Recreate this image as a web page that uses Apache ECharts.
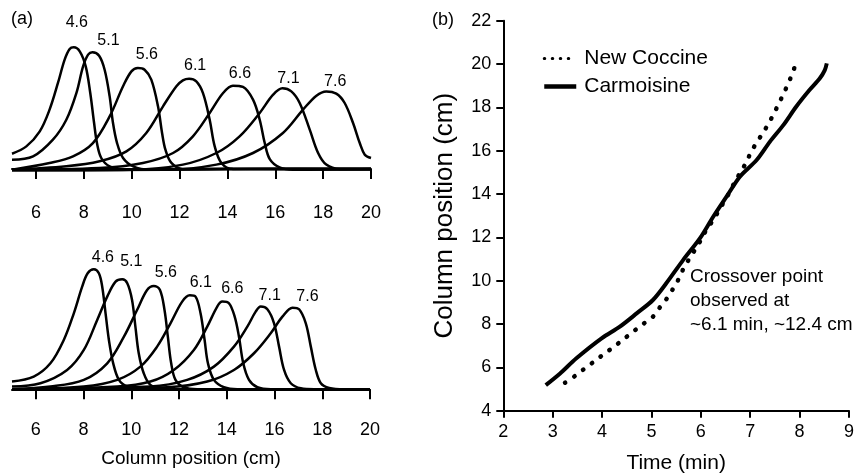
<!DOCTYPE html>
<html>
<head>
<meta charset="utf-8">
<script src="https://cdn.jsdelivr.net/npm/echarts@6/dist/echarts.min.js"></script>
<style>
  html, body { margin: 0; padding: 0; background: #fff; }
  #main { width: 856px; height: 475px; }
</style>
</head>
<body>
<div id="main"></div>
<script>
// elution times (min) of each profile
const runTimes = ['4.6', '5.1', '5.6', '6.1', '6.6', '7.1', '7.6'];
const tickValues = [6, 8, 10, 12, 14, 16, 18, 20];

// (a) top: [column position (cm), signal]
const top46 = [[5.00, 12.9], [5.60, 19.1], [6.16, 31.8], [6.57, 50.1], [6.92, 72.6], [7.20, 92.3], [7.41, 101.3], [7.58, 102.7], [7.83, 99.3], [8.08, 86.6], [8.27, 64.1], [8.43, 38.8], [8.55, 21.9], [8.73, 9.3], [9.08, 2.3], [9.78, -0.6], [14, 0.3], [20, 0]];
const top51 = [[5.00, 7.9], [5.88, 10.7], [6.71, 24.8], [7.27, 41.6], [7.69, 64.1], [7.97, 86.6], [8.18, 96.5], [8.36, 98.5], [8.64, 95.6], [8.87, 83.8], [9.08, 61.3], [9.22, 38.8], [9.39, 21.9], [9.64, 9.3], [10.06, 2.3], [10.75, -0.6], [15, 0], [20, 0.3]];
const top56 = [[5.00, -0.6], [6.57, 5.1], [7.55, 10.7], [8.38, 21.9], [9.08, 44.4], [9.64, 69.8], [9.99, 82.4], [10.26, 85.2], [10.54, 83.8], [10.82, 75.4], [11.10, 52.9], [11.27, 30.4], [11.41, 16.3], [11.66, 5.1], [12.14, 0], [20, 0]];
const top61 = [[5.00, -0.6], [7.27, 2.3], [8.66, 6.5], [9.78, 14.9], [10.61, 30.4], [11.31, 52.9], [11.87, 69.8], [12.14, 74.8], [12.40, 76.2], [12.70, 74.0], [12.98, 64.1], [13.26, 41.6], [13.47, 19.1], [13.75, 5.1], [14.23, 0], [20, -0.4]];
const top66 = [[5.00, -0.6], [8.66, 0.8], [10.47, 5.1], [11.73, 13.5], [12.56, 27.6], [13.26, 47.3], [13.82, 64.1], [14.23, 70.3], [14.65, 69.2], [15.07, 58.5], [15.35, 41.6], [15.56, 21.9], [15.77, 8.4], [16.18, 1.4], [16.74, -0.6], [20, 0]];
const top71 = [[5.00, -1.1], [10.06, -0.6], [12.14, 3.7], [13.54, 13.5], [14.51, 27.6], [15.35, 47.3], [15.91, 62.7], [16.30, 68.1], [16.67, 65.5], [17.02, 55.7], [17.44, 33.2], [17.79, 13.5], [18.13, 3.7], [18.69, 0], [20, 0]];
const top76 = [[5.00, -1.1], [11.45, -0.6], [13.54, 3.7], [15.07, 13.5], [16.32, 30.4], [17.16, 50.1], [17.72, 61.9], [18.13, 65.5], [18.55, 63.6], [18.90, 55.7], [19.25, 38.8], [19.53, 21.9], [19.74, 12.1], [20.00, 9.3]];

// (a) bottom
const bot46 = [[5.00, 6.5], [5.91, 10.7], [6.61, 21.9], [7.17, 41.6], [7.59, 64.1], [7.94, 86.6], [8.17, 97.9], [8.43, 101.3], [8.64, 97.9], [8.78, 86.6], [8.92, 64.1], [9.06, 41.6], [9.24, 21.9], [9.48, 7.9], [9.83, 2.3], [10.52, 0], [20, 0]];
const bot51 = [[5.00, 2.3], [6.19, 5.1], [7.31, 16.3], [8.01, 33.2], [8.57, 58.5], [8.99, 78.2], [9.34, 90.9], [9.62, 92.8], [9.83, 89.5], [10.03, 75.4], [10.17, 52.9], [10.31, 30.4], [10.52, 13.5], [10.80, 3.7], [11.36, 0], [20, 0]];
const bot56 = [[5.00, 0], [6.61, 2.3], [8.01, 7.9], [8.99, 21.9], [9.69, 44.4], [10.24, 66.9], [10.66, 83.8], [10.94, 87.2], [11.20, 83.8], [11.39, 66.9], [11.53, 44.4], [11.67, 21.9], [11.85, 7.9], [12.20, 1.7], [12.76, 0], [20, 0]];
const bot61 = [[5.00, 0], [8.01, 2.3], [9.41, 7.9], [10.38, 19.1], [11.08, 36.0], [11.64, 55.7], [12.13, 74.0], [12.45, 79.3], [12.69, 78.2], [12.90, 64.1], [13.07, 41.6], [13.21, 21.9], [13.46, 7.9], [13.88, 1.7], [14.44, 0], [20, 0]];
const bot66 = [[5.00, 0], [9.41, 2.3], [10.80, 6.5], [11.78, 16.3], [12.62, 33.2], [13.18, 52.9], [13.60, 69.8], [13.81, 74.0], [14.09, 72.6], [14.33, 61.3], [14.51, 44.4], [14.69, 21.9], [14.93, 7.9], [15.28, 1.7], [15.84, 0], [20, 0]];
const bot71 = [[5.00, 0], [10.80, 2.3], [12.34, 7.9], [13.46, 19.1], [14.30, 36.0], [14.86, 52.9], [15.21, 65.5], [15.42, 69.8], [15.70, 67.5], [15.98, 55.7], [16.19, 36.0], [16.40, 16.3], [16.68, 5.1], [17.10, 0.8], [17.66, 0], [20, 0]];
const bot76 = [[5.00, 0], [11.50, 1.7], [13.18, 6.5], [14.30, 16.3], [15.14, 30.4], [15.84, 47.3], [16.33, 61.3], [16.75, 68.9], [17.03, 67.5], [17.31, 55.7], [17.52, 36.0], [17.73, 16.3], [17.94, 5.1], [18.29, 1.1], [18.92, 0], [20, 0]];

// (b) front position: [time (min), column position (cm)]
const newCoccine = [[3.25, 5.29], [3.45, 5.60], [3.65, 5.95], [3.85, 6.29], [4.04, 6.62], [4.24, 6.95], [4.43, 7.29], [4.63, 7.65], [4.83, 8.00], [5.03, 8.34], [5.17, 8.77], [5.30, 9.14], [5.43, 9.60], [5.54, 10.03], [5.64, 10.52], [5.75, 10.95], [5.88, 11.42], [6.01, 11.91], [6.11, 12.34], [6.25, 12.80], [6.36, 13.22], [6.47, 13.65], [6.59, 14.11], [6.69, 14.57], [6.81, 15.03], [6.92, 15.46], [7.01, 15.91], [7.12, 16.34], [7.26, 16.83], [7.38, 17.29], [7.48, 17.72], [7.58, 18.18], [7.68, 18.65], [7.77, 19.11], [7.85, 19.54], [7.92, 20.00]];
const carmoisine = [[2.86, 5.18], [3.15, 5.72], [3.48, 6.42], [3.99, 7.34], [4.36, 7.88], [4.70, 8.49], [5.03, 9.11], [5.30, 9.88], [5.64, 10.95], [5.98, 11.95], [6.25, 12.95], [6.52, 13.88], [6.79, 14.80], [7.13, 15.57], [7.40, 16.42], [7.67, 17.18], [7.93, 18.03], [8.20, 18.80], [8.41, 19.34], [8.51, 19.72], [8.55, 20.03]];

const topCurves = [top46, top51, top56, top61, top66, top71, top76];
const botCurves = [bot46, bot51, bot56, bot61, bot66, bot71, bot76];

// label nudges (px) relative to each peak
const topLabelOffsets = [[3, -17], [16, -4], [9, -5], [6, -5], [7, -4], [6, -2], [9, -2]];
const botLabelOffsets = [[9, -4], [9, -10], [12, -5], [11, -5], [10, -5], [9, -3], [15, -3]];

const FONT = 'Liberation Sans, Arial, Helvetica, sans-serif';
const black = '#000';

function peakSeries(name, data, idx, offset) {
  return {
    name: name,
    type: 'line',
    xAxisIndex: idx,
    yAxisIndex: idx,
    data: data,
    smooth: 0.35,
    symbol: 'none',
    silent: true,
    lineStyle: { color: black, width: 2.5 },
    markPoint: {
      symbol: 'circle',
      symbolSize: 0,
      data: [{ type: 'max' }],
      label: {
        show: true,
        position: 'top',
        distance: 0,
        offset: offset,
        formatter: name,
        color: black,
        fontSize: 16,
        fontFamily: FONT
      }
    }
  };
}

function peakXAxis(idx) {
  return {
    type: 'value',
    gridIndex: idx,
    min: 5,
    max: 20,
    axisLine: { show: true, lineStyle: { color: black, width: 2 } },
    axisTick: { show: true, length: 10, customValues: tickValues, lineStyle: { color: black, width: 2 } },
    axisLabel: { customValues: tickValues, color: black, fontSize: 18, fontFamily: FONT, margin: 11 },
    splitLine: { show: false }
  };
}

let myChart = echarts.init(document.getElementById('main'));

let series = [];
runTimes.forEach((t, i) => series.push(peakSeries(t, topCurves[i], 0, topLabelOffsets[i])));
runTimes.forEach((t, i) => series.push(peakSeries(t, botCurves[i], 1, botLabelOffsets[i])));
series.push({
  name: 'New Coccine',
  type: 'line',
  xAxisIndex: 2,
  yAxisIndex: 2,
  data: newCoccine,
  symbol: 'none',
  smooth: 0.3,
  itemStyle: { color: black },
  lineStyle: { color: black, width: 4.5, type: [0.5, 10.5], cap: 'round' }
});
series.push({
  name: 'Carmoisine',
  type: 'line',
  xAxisIndex: 2,
  yAxisIndex: 2,
  data: carmoisine,
  symbol: 'none',
  smooth: 0.3,
  itemStyle: { color: black },
  lineStyle: { color: black, width: 4 }
});

let option = {
  animation: false,
  backgroundColor: '#fff',
  textStyle: { fontFamily: FONT },
  grid: [
    { left: 12, right: 485, top: 26.8, bottom: 282.3, outerBoundsMode: 'none' },
    { left: 12, right: 486, top: 247.1, bottom: 65, outerBoundsMode: 'none' },
    { left: 503.3, right: 7, top: 20.7, bottom: 64.3, outerBoundsMode: 'none' }
  ],
  xAxis: [
    peakXAxis(0),
    Object.assign(peakXAxis(1), {
      name: 'Column position (cm)',
      nameLocation: 'middle',
      nameGap: 39,
      nameTextStyle: { color: black, fontSize: 19, fontFamily: FONT }
    }),
    {
      type: 'value',
      gridIndex: 2,
      min: 2,
      max: 9,
      interval: 1,
      name: 'Time (min)',
      nameLocation: 'middle',
      nameGap: 42,
      nameTextStyle: { color: black, fontSize: 21, fontFamily: FONT },
      axisLine: { show: true, lineStyle: { color: black, width: 2 } },
      axisTick: { show: true, length: 7, lineStyle: { color: black, width: 2 } },
      axisLabel: { color: black, fontSize: 18, fontFamily: FONT, margin: 12 },
      splitLine: { show: false }
    }
  ],
  yAxis: [
    { type: 'value', gridIndex: 0, min: -20, max: 120, show: false },
    { type: 'value', gridIndex: 1, min: -17.5, max: 120, show: false },
    {
      type: 'value',
      gridIndex: 2,
      min: 4,
      max: 22,
      interval: 2,
      name: 'Column position (cm)',
      nameLocation: 'middle',
      nameGap: 45,
      nameTextStyle: { color: black, fontSize: 26, fontFamily: FONT },
      axisLine: { show: true, lineStyle: { color: black, width: 2 } },
      axisTick: { show: true, length: 7, lineStyle: { color: black, width: 2 } },
      axisLabel: { color: black, fontSize: 18, fontFamily: FONT, margin: 12 },
      splitLine: { show: false }
    }
  ],
  legend: {
    data: [
      { name: 'New Coccine', lineStyle: { width: 3, type: [0.5, 7.5], cap: 'round' } },
      { name: 'Carmoisine', lineStyle: { width: 4.5 } }
    ],
    orient: 'vertical',
    left: 537,
    top: 43,
    itemWidth: 32,
    itemHeight: 14,
    itemGap: 7,
    selectedMode: false,
    itemStyle: { opacity: 0 },
    textStyle: { color: black, fontSize: 21, fontFamily: FONT, padding: [0, 0, 0, 3] }
  },
  graphic: [
    { type: 'text', x: 11, y: 10, style: { text: '(a)', fill: black, fontSize: 18, fontFamily: FONT } },
    { type: 'text', x: 432, y: 11, style: { text: '(b)', fill: black, fontSize: 18, fontFamily: FONT } },
    {
      type: 'text', x: 690, y: 265,
      style: {
        text: 'Crossover point\nobserved at\n~6.1 min, ~12.4 cm',
        fill: black, fontSize: 19, fontFamily: FONT, lineHeight: 24
      }
    }
  ],
  series: series
};

myChart.setOption(option);
</script>
</body>
</html>
